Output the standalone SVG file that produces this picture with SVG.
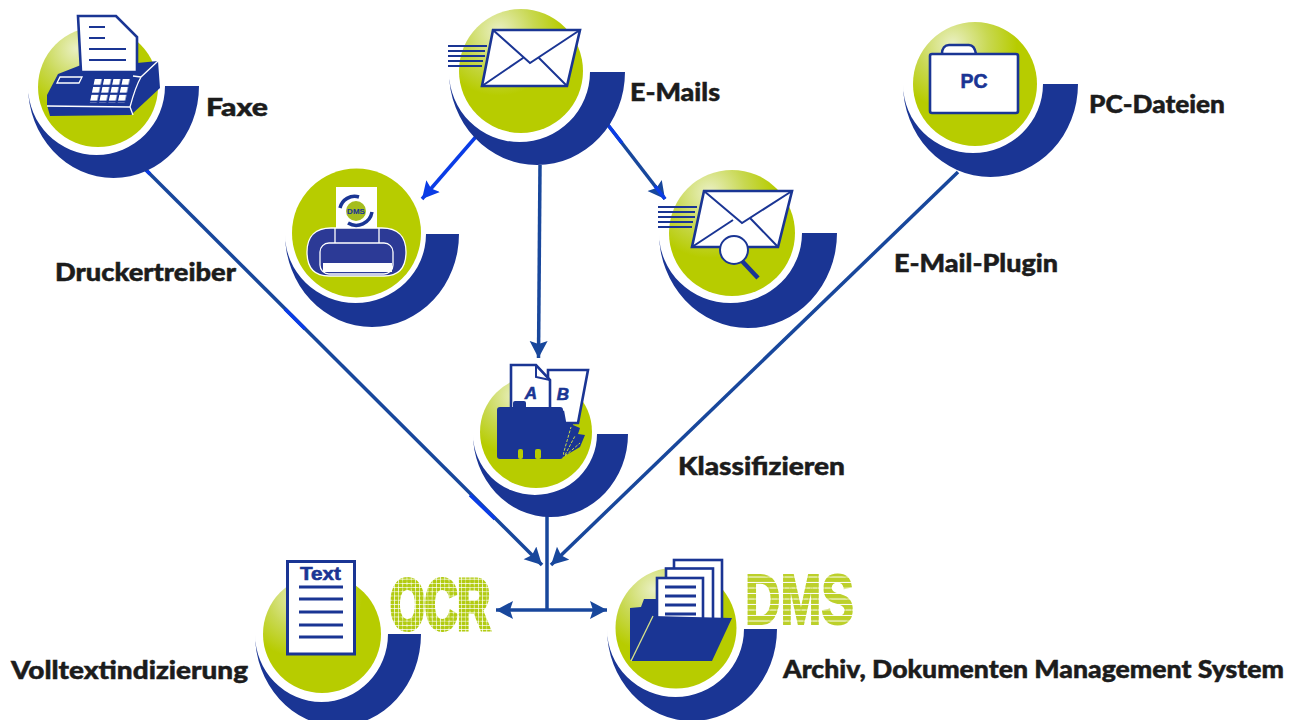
<svg xmlns="http://www.w3.org/2000/svg" width="1301" height="720" viewBox="0 0 1301 720">
<style>
.sw{fill:#1a3594}
.gr{fill:url(#ball)}
.flat{fill:#b7cc00}
.pap{fill:#fff;stroke:#1a3594;stroke-width:2.6;stroke-linejoin:miter}
.ln{fill:none;stroke:#1a3594;stroke-width:2}
.ln2{fill:none;stroke:#1a3594;stroke-width:3}
.bl{fill:#1a3594}
.wl{fill:none;stroke:#fff;stroke-width:1.3}
.con{fill:none;stroke:#18479c;stroke-width:3.5}
.hot{fill:none;stroke:#0a3ce6;stroke-width:3.5}
.lab{font-family:"Lato","Liberation Sans",sans-serif;font-weight:900;font-size:25px;fill:#1c1c1c;stroke:#1c1c1c;stroke-width:.5}
.ic{font-family:"Liberation Sans",sans-serif;font-weight:700;fill:#1a3594;stroke:#1a3594;stroke-width:.6}
.big{font-family:"Liberation Sans",sans-serif;font-weight:700}
</style>
<defs>
<radialGradient id="ball" cx=".32" cy=".18" r=".72">
<stop offset="0" stop-color="#eaf0c4"/><stop offset=".4" stop-color="#c8d851"/><stop offset=".72" stop-color="#b7cc00"/>
</radialGradient>
<pattern id="dots" width="4.2" height="4.2" patternUnits="userSpaceOnUse"><rect width="3.5" height="3.5" fill="#b2cb12"/></pattern>
<pattern id="stripes" width="5" height="5.5" patternUnits="userSpaceOnUse"><rect width="5" height="4.5" fill="#bcd02a"/></pattern>
<pattern id="keys" x="93" y="79" width="9.3" height="7.9" patternUnits="userSpaceOnUse" patternTransform="skewX(-12)"><rect width="7" height="5.8" fill="#fff"/></pattern>
<marker id="arrD" markerUnits="userSpaceOnUse" markerWidth="20" markerHeight="20" refX="17" refY="9" orient="auto"><path d="M17,9 L0,0 L3,9 L0,18z" fill="#18479c"/></marker>
<marker id="arrH" markerUnits="userSpaceOnUse" markerWidth="20" markerHeight="20" refX="17" refY="9" orient="auto"><path d="M17,9 L0,0 L3,9 L0,18z" fill="#0a3ce6"/></marker>
<marker id="arrS" markerUnits="userSpaceOnUse" markerWidth="20" markerHeight="20" refX="1" refY="9" orient="auto"><path d="M1,9 L18,0 L15,9 L18,18z" fill="#18479c"/></marker>
</defs>

<g id="connectors">
<path class="con" d="M146,170 L542,565" marker-end="url(#arrD)"/>
<path class="hot" d="M146,170 L150,174 M285,309 L305,329 M470,495 L495,519"/>
<path class="con" d="M958,172 L551,565" marker-end="url(#arrD)"/>
<path class="con" d="M540,165 L538.500,358" marker-end="url(#arrD)"/>
<path class="hot" d="M480,132 L422,199" marker-end="url(#arrH)"/>
<path class="con" d="M608,125 L665,199" marker-end="url(#arrD)"/>
<path class="hot" d="M608,125 L622,143 M655,186 L665,199"/>
<path class="con" d="M547,516 L547,610"/>
<path class="con" d="M496,610 L607,610" marker-start="url(#arrS)" marker-end="url(#arrD)"/>
</g>

<g id="node-fax">
<circle class="gr" cx="98" cy="87" r="60"/>
<path class="sw" d="M28,86 A68.500 69 0 0 0 165,86 L199,86 A85.500 92 0 0 1 28,86Z"/>
<path class="bl" d="M47,105 L47,95 L58,74 L81,65 L137,63 L158,61 L160,88 L131,115 L50,116Z"/>
<path class="pap" d="M78,16 L116,16 L137,37 L137,72 L81,72Z"/>
<path class="ln" d="M89,27 H105 M89,38 H105 M89,49 H126 M89,60 H126"/>
<path class="wl" d="M47,106 L130,107 L133,115 M130,107 C134,92 137,84 141,77 L158,61 M57,83 L60,77 H82 L79,83Z M141,77 L133,76"/>
<path d="M94,79 H131 L126,103 H89Z" fill="url(#keys)"/>
<text class="lab" x="206" y="116" textLength="62" lengthAdjust="spacingAndGlyphs">Faxe</text>
</g>

<g id="node-printer">
<circle class="flat" cx="356.500" cy="233" r="64.500"/>
<path class="sw" d="M285,234 A70.500 69 0 0 0 426,234 L459,234 A87 93 0 0 1 285,234Z"/>
<rect x="336" y="187" width="41" height="46" fill="#fff"/>
<path d="M307,252 C307,236 316,228 331,228 H382 C397,228 406,236 406,252 C406,268 398,276 384,276 H329 C315,276 307,268 307,252Z" fill="#2c3a96" stroke="#fff" stroke-width="1.3"/>
<path class="wl" d="M335,228 V243 M379,228 V243"/>
<rect x="320" y="243" width="73" height="31" rx="9" fill="#2c3a96" stroke="#fff" stroke-width="1.3"/>
<rect x="323" y="263" width="69" height="9" fill="#fff"/>
<path d="M340,208 A15,15 0 0 1 359,197" fill="none" stroke="#1a3594" stroke-width="3.5"/>
<path d="M372,212 A16,16 0 0 1 348,223" fill="none" stroke="#1a3594" stroke-width="3.5"/>
<circle cx="356" cy="211" r="10" fill="#a5bd1e"/>
<text class="ic" x="356" y="214" font-size="8" text-anchor="middle" style="stroke-width:.1">DMS</text>
</g>

<g id="node-email">
<circle class="gr" cx="521" cy="71" r="62"/>
<path class="sw" d="M449,72 A70.500 70 0 0 0 590,72 L625,72 A88 93 0 0 1 449,72Z"/>
<path class="ln" d="M448,46 H487 M448,51 H485 M448,56 H485 M448,61 H483 M448,66 H482"/>
<path class="pap" d="M493,30 H580 L567,86 H482Z"/>
<path class="ln" d="M493,30 L530,63 L580,30 M482,86 L523,58 M567,86 L538,57"/>
<text class="lab" x="630" y="101" textLength="90" lengthAdjust="spacingAndGlyphs">E-Mails</text>
</g>

<g id="node-lookup">
<circle class="gr" cx="732" cy="233" r="63"/>
<path class="sw" d="M659,233 A71.500 70 0 0 0 802,233 L837,233 A89 95 0 0 1 659,233Z"/>
<path class="ln" d="M658,207 H697 M658,212 H695 M658,217 H695 M658,222 H693 M658,227 H692"/>
<path class="pap" d="M704,191 H792 L778,247 H692Z"/>
<path class="ln" d="M704,191 L742,223 L792,191 M692,247 L733,220 M778,247 L750,218"/>
<path d="M742,261 L758,278" stroke="#1a3594" stroke-width="4.500" fill="none"/>
<circle cx="734" cy="250" r="14" fill="#fff" stroke="#1a3594" stroke-width="2"/>
</g>

<g id="node-pc">
<circle class="gr" cx="975" cy="84" r="62"/>
<path class="sw" d="M903,84 A70 69 0 0 0 1043,84 L1078,84 A87.500 93 0 0 1 903,84Z"/>
<path class="pap" d="M942,54 C942,48 945,45 949,45 H969 C973,45 975,48 976,54"/>
<rect class="pap" x="930" y="54" width="88" height="59" rx="2"/>
<text class="ic" x="974" y="88" font-size="20" text-anchor="middle" textLength="27" lengthAdjust="spacingAndGlyphs">PC</text>
<text class="lab" x="1089" y="113" textLength="136" lengthAdjust="spacingAndGlyphs">PC-Dateien</text>
</g>

<g id="node-klass">
<circle class="gr" cx="536" cy="432" r="56"/>
<path class="sw" d="M473,434 A62 61 0 0 0 597,434 L628,434 A77.500 83 0 0 1 473,434Z"/>
<path class="bl" d="M563,413 L572,415 L573,425 L580,428 L578,434 L585,435 L580,447 L563,457Z"/>
<path d="M563,455 L571,427 M565,455 L575,436 M565,456 L580,443" fill="none" stroke="#c6d84a" stroke-width="1" stroke-dasharray="3 1.500"/>
<path class="pap" d="M548,370 H588 L578,423 H565 L563,412 L548,410Z"/>
<path class="pap" d="M511,365 H536 L550,380 V410 H511Z"/>
<path class="ln" d="M536,365 V377 L550,380"/>
<rect class="bl" x="497" y="407" width="66" height="52" rx="3"/>
<rect class="bl" x="513" y="401" width="13" height="8" rx="2"/>
<rect class="flat" x="518" y="449" width="5" height="10" rx="2"/>
<rect class="flat" x="535" y="449" width="6" height="10" rx="2"/>
<text class="ic" x="531" y="399" font-size="17" text-anchor="middle" font-style="italic">A</text>
<text class="ic" x="563" y="400" font-size="17" text-anchor="middle" font-style="italic">B</text>
<text class="lab" x="678" y="475" textLength="167" lengthAdjust="spacingAndGlyphs">Klassifizieren</text>
</g>

<g id="node-ocr">
<circle class="gr" cx="322" cy="634" r="59"/>
<path class="sw" d="M255,634 A66.500 68 0 0 0 388,634 L421,634 A83 92 0 0 1 255,634Z"/>
<rect x="287.500" y="561.500" width="67" height="92.500" fill="#fff" stroke="#1a3594" stroke-width="3"/>
<text class="ic" x="300" y="580" font-size="18" textLength="41" lengthAdjust="spacingAndGlyphs">Text</text>
<path class="ln2" d="M299,587 H343 M299,599 H343 M299,612 H343 M299,625 H343 M299,637 H343"/>
<text class="big" x="390" y="629" font-size="71" fill="url(#dots)" stroke="url(#dots)" stroke-width="5" stroke-linejoin="miter" textLength="100" lengthAdjust="spacingAndGlyphs">OCR</text>
<text class="lab" x="11" y="679" textLength="237" lengthAdjust="spacingAndGlyphs">Volltextindizierung</text>
</g>

<g id="node-dms">
<circle class="gr" cx="676" cy="628" r="60.500"/>
<path class="sw" d="M607,629 A68.500 68 0 0 0 744,629 L777,629 A85 92 0 0 1 607,629Z"/>
<path class="bl" d="M630,660 V608 L641,607 L644,599 H660 V640Z"/>
<rect class="pap" x="674" y="560" width="48" height="62"/>
<rect class="pap" x="666" y="568.500" width="47" height="54"/>
<rect class="pap" x="657" y="578" width="46" height="46"/>
<path class="ln2" d="M665,587 H696 M665,596 H696 M665,605 H696 M665,614 H696"/>
<path class="bl" d="M653,616 L732,618 L712,661 H631Z"/>
<path d="M631,661 L653,616" stroke="#d7e28a" stroke-width="1.300" fill="none"/>
<text class="big" x="745" y="624" font-size="70" fill="url(#stripes)" stroke="url(#stripes)" stroke-width="2" textLength="109" lengthAdjust="spacingAndGlyphs">DMS</text>
<text class="lab" x="783" y="678" textLength="501" lengthAdjust="spacingAndGlyphs">Archiv, Dokumenten Management System</text>
</g>

<g id="connector-labels">
<text class="lab" x="55" y="281" textLength="181" lengthAdjust="spacingAndGlyphs">Druckertreiber</text>
<text class="lab" x="894" y="272" textLength="164" lengthAdjust="spacingAndGlyphs">E-Mail-Plugin</text>
</g>
</svg>
